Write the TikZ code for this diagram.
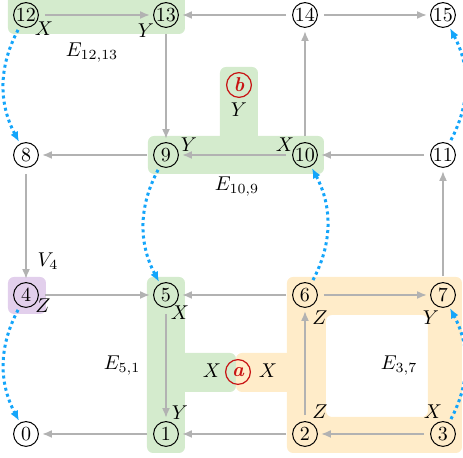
\documentclass[tikz,border=0pt]{standalone}
\usetikzlibrary{arrows.meta}
\definecolor{edgegray}{RGB}{178,178,178}
\definecolor{flowblue}{RGB}{20,165,250}
\definecolor{gfill}{RGB}{212,235,205}
\definecolor{ofill}{RGB}{255,236,201}
\definecolor{pfill}{RGB}{226,207,236}
\definecolor{markred}{RGB}{200,20,20}
\begin{document}
\begin{tikzpicture}[x=0.5pt,y=-0.5pt,
  vtx/.style={circle,draw,line width=0.5pt,minimum size=12.4pt,inner sep=0pt,font=\fontsize{10}{10}\selectfont},
  redvtx/.style={circle,draw=markred,text=markred,line width=0.6pt,minimum size=12.4pt,inner sep=0pt,font=\fontsize{10}{10}\selectfont\bfseries\itshape},
  lbl/.style={inner sep=0pt,font=\fontsize{10}{12}\selectfont},
  edge/.style={draw=edgegray,line width=1pt,-{Latex[length=5pt,width=4pt]},shorten >=1.5pt,shorten <=3pt},
  flow/.style={draw=flowblue,line width=1.5pt,dash pattern=on 1.5pt off 1.6pt,-{Latex[length=5pt,width=4.2pt]},bend right=28,shorten >=1pt,shorten <=2pt},
  region/.style={rounded corners=3pt}
]
\useasboundingbox (0,0) rectangle (463,458);
% regions
\fill[gfill,region] (8,-6) rectangle (185,34);
\fill[gfill,region] (148,136) rectangle (324,174);
\fill[gfill,region] (220,67) rectangle (258,142);
\fill[gfill,region] (147,277) rectangle (185,453);
\fill[gfill,region] (178,353) rectangle (236,392);
\fill[ofill,region,even odd rule] (287,277) rectangle (462,453) (326,315) rectangle (428,417);
\fill[ofill,region] (236,353) rectangle (293,392);
\fill[pfill,region] (8,277) rectangle (46,314);
% vertices
\node[vtx] (n12) at (26,15) {12};
\node[vtx] (n13) at (166,15) {13};
\node[vtx] (n14) at (305,15) {14};
\node[vtx] (n15) at (443,15) {15};
\node[vtx] (n8) at (26,155) {8};
\node[vtx] (n9) at (166,155) {9};
\node[vtx] (n10) at (305,155) {10};
\node[vtx] (n11) at (443,155) {11};
\node[vtx] (n4) at (26,295) {4};
\node[vtx] (n5) at (166,295) {5};
\node[vtx] (n6) at (305,295) {6};
\node[vtx] (n7) at (443,295) {7};
\node[vtx] (n0) at (26,434) {0};
\node[vtx] (n1) at (166,434) {1};
\node[vtx] (n2) at (305,434) {2};
\node[vtx] (n3) at (443,434) {3};
\node[redvtx] (va) at (238,372) {a};
\node[redvtx] (vb) at (239,85) {b};
% edges
\draw[edge] (n12) -- (n13);
\draw[edge] (n14) -- (n13);
\draw[edge] (n14) -- (n15);
\draw[edge] (n13) -- (n9);
\draw[edge] (n10) -- (n14);
\draw[edge] (n9) -- (n8);
\draw[edge] (n10) -- (n9);
\draw[edge] (n11) -- (n10);
\draw[edge] (n8) -- (n4);
\draw[edge] (n4) -- (n5);
\draw[edge] (n6) -- (n5);
\draw[edge] (n6) -- (n7);
\draw[edge] (n7) -- (n11);
\draw[edge] (n5) -- (n1);
\draw[edge] (n1) -- (n0);
\draw[edge] (n2) -- (n1);
\draw[edge] (n2) -- (n6);
\draw[edge] (n3) -- (n2);
% flows
\draw[flow] (n12) to (n8);
\draw[flow] (n9) to (n5);
\draw[flow] (n4) to (n0);
\draw[flow] (n6) to (n10);
\draw[flow] (n3) to (n7);
\draw[flow] (n11) to (n15);
% labels
\node[lbl] (l12x) at (44,29) {$X$};
\node[lbl] (l13y) at (146,31) {$Y$};
\node[lbl] (le1213) at (92,53) {$E_{12,13}$};
\node[lbl] (lby) at (239,110) {$Y$};
\node[lbl] (l9y) at (189,145) {$Y$};
\node[lbl] (l10x) at (285,145) {$X$};
\node[lbl] (le109) at (237,187) {$E_{10,9}$};
\node[lbl] (lv4) at (48,261) {$V_4$};
\node[lbl] (l4z) at (43,306) {$Z$};
\node[lbl] (l5x) at (180,313) {$X$};
\node[lbl] (l1y) at (180,413) {$Y$};
\node[lbl] (le51) at (122,366) {$E_{5,1}$};
\node[lbl] (lax1) at (212,371) {$X$};
\node[lbl] (lax2) at (268,371) {$X$};
\node[lbl] (l6z) at (320,318) {$Z$};
\node[lbl] (l7y) at (431,318) {$Y$};
\node[lbl] (le37) at (399,366) {$E_{3,7}$};
\node[lbl] (l2z) at (320,412) {$Z$};
\node[lbl] (l3x) at (433,412) {$X$};
\end{tikzpicture}
\end{document}
